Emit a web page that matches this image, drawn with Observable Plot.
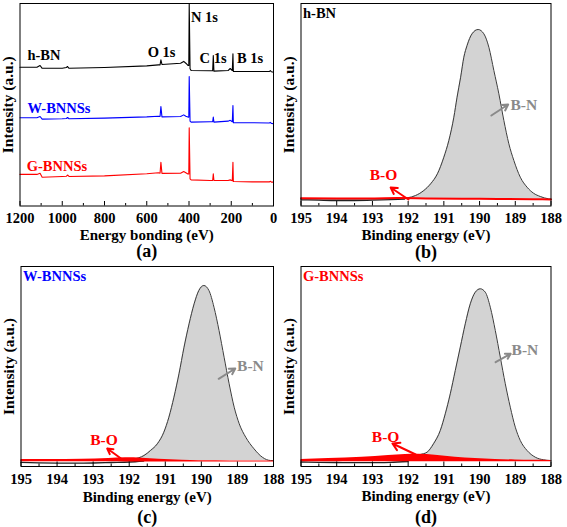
<!DOCTYPE html>
<html><head><meta charset="utf-8">
<script src="https://cdn.jsdelivr.net/npm/d3@7"></script>
<script src="https://cdn.jsdelivr.net/npm/@observablehq/plot@0.6"></script>
<style>
body{margin:0;background:#fff;}
#root{position:relative;width:567px;height:527px;overflow:hidden;background:#fff;}
#root svg{position:absolute;overflow:visible;}
#root svg text{font-family:"Liberation Serif","Times New Roman",serif !important;font-weight:bold !important;}
</style></head><body><div id="root"></div>
<script>
// ---------- (a) survey spectra ----------
const surveyEV  = [1200,1120,1105,1095,1000,980,975,968,800,600,545,537,533,528,440,425,415,405,401,399,395,390,300,288,285,282,215,205,195,192,190,188,100,20,15,10,0];
const surveyHBN = [68.5,68.5,69.4,68.0,68.0,68.4,68.9,68.0,68.4,69.2,69.7,69.7,72.2,69.9,70.5,71.4,70.5,69.4,69.4,99.8,67.8,66.9,66.8,66.8,74.3,66.6,66.9,67.9,66.9,75.2,66.4,66.4,66.4,66.4,66.9,66.3,66.1];
const surveyW   = [43.6,43.6,44.2,42.9,43.1,43.2,43.7,43.1,43.4,44.0,44.3,44.2,49.1,44.0,44.2,45.0,44.3,43.9,43.9,63.9,41.9,41.4,41.6,41.6,43.9,41.4,41.9,42.3,41.6,49.6,41.1,41.1,41.1,41.0,41.3,40.8,40.6];
const surveyG   = [15.6,15.6,16.2,14.2,14.6,14.7,15.3,14.6,14.9,15.9,16.4,16.2,21.6,16.1,16.2,17.0,16.4,15.8,15.8,38.6,13.4,12.9,12.6,12.6,15.9,12.6,12.6,12.9,12.5,21.6,12.1,12.1,11.9,11.9,12.2,11.8,11.8];
const surveyTicks = [1200,1000,800,600,400,200,0];
const surveyMinor = [1100,900,700,500,300,100];
const sampleNames = ["h-BN","W-BNNSs","G-BNNSs"];
const sampleColors = ["#000000","#0000ff","#ff0000"];
const sampleLabelEV = [1165,1165,1168];
const sampleLabelI = [74.4,48.3,19.7];
const coreNames = ["O 1s","N 1s","C 1s","B 1s"];
const coreLabelEV = [530,327,286,111];
const coreLabelI = [75.9,93.1,72.9,72.9];

// ---------- (b)-(d) B 1s ----------
const hrTicks = [195,194,193,192,191,190,189,188];
const hrMinor = [194.5,193.5,192.5,191.5,190.5,189.5,188.5];

const bEV = [195,194,193,192.5,192.02,191.79,191.56,191.37,191.18,191.00,190.86,190.72,190.63,190.53,190.44,190.35,190.21,190.04,189.88,189.74,189.60,189.46,189.32,189.18,189.04,188.86,188.67,188.49,188.30,188.07,188];
const bBN = [0,0,0,0.3,1.2,3.5,8.5,15.2,25.2,41.8,58.5,81.8,101.8,121.8,141.8,153.5,165.2,169.5,165.2,151.8,128.5,105.2,78.5,55.2,38.5,21.8,11.8,5.8,2.5,0.2,0];
const bBoEV = [195,194,193,192.3,191.5,190.5,189.5,188.5,188];
const bBo = [0.8,0.6,0.6,0.9,0.6,0.3,0.1,-0.2,-0.4];
const bBgEV = [195,194.5,194,193.5,193,192.5,192.1];
const bBg = [-0.8,-1.2,-1.5,-1.5,-1.2,-0.6,0];

const cEV = [195,194,193,192.5,191.87,191.59,191.41,191.22,191.04,190.90,190.76,190.62,190.48,190.34,190.20,190.07,189.93,189.79,189.65,189.51,189.37,189.23,189.09,188.95,188.77,188.54,188.31,188.08,188];
const cBN = [0,0,0,0.3,1.7,5,10,16.7,28.3,43.3,63.3,86.7,113.3,136.7,156.7,170,175,170,153.3,130,103.3,76.7,53.3,36.7,23.3,11.7,3.3,0,0];
const cBoEV = [195,194.23,193.31,192.57,192.1,191.64,191.18,190.53,189.6,188.8,188];
const cBoTop = [1,1,1.3,2,2.7,2.3,1.3,0.3,-0.3,-0.5,-0.6];
const cBoBase = [-1.3,-1.3,-1.3,-1.3,-1.4,-1.4,-1.4,-1.4,-1.5,-1.5,-1.6];
const cBgEV = [195,194.5,194,193.5,193,192.5,192,191.6];
const cBg = [-1.8,-2.3,-2.6,-2.7,-2.5,-2,-1.5,-0.5];

const dEV = [195,194,193,192.3,191.9,191.66,191.47,191.29,191.10,190.96,190.82,190.68,190.54,190.40,190.26,190.12,189.98,189.84,189.70,189.56,189.42,189.28,189.14,189.00,188.86,188.67,188.44,188.21,188.02,188];
const dBN = [0,0,0.5,2,4,6,8.3,16.7,30,46.7,66.7,90,113.3,136.7,156.7,168.3,171.7,168.3,153.3,130,103.3,76.7,53.3,33.3,20,10,3.3,0.7,0,0];
const dBoEV = [195,194.23,193.29,192.55,192.08,191.71,191.24,190.68,190.12,189.56,189,188.5,188];
const dBoTop = [1,2,3.3,5,6,6.3,5.3,3.3,2,1,0.5,0.2,0];
const dBoBase = [-1.3,-1.3,-1.3,-1.3,-1.3,-1.3,-1.3,-1.3,-1.3,-1.3,-1.3,-1.3,-1.3];
const dBgEV = [195,194.5,194,193.5,193,192.5,192];
const dBg = [-1.5,-1.8,-2,-2.2,-2.2,-1.8,-1];

// annotations: [label eV, label I], arrows: [x1,y1,x2,y2]
const bBOlabel = [192.69,23.5], bBOarrow = [191.99,-0.5,192.49,11.5];
const bBNlabel = [188.76,93.5], bBNarrow = [189.67,83.5,189.2,94.5];
const cBOlabel = [192.70,20],   cBOarrow = [192.19,1,192.61,12];
const cBNlabel = [188.64,94],   cBNarrow = [189.52,81.7,189.06,92];
const dBOlabel = [192.63,23],   dBOarrow = [191.79,6,192.44,17];
const dBNlabel = [188.73,110],  dBNarrow = [189.55,98.3,189.13,106.7];

const root = document.getElementById("root");
const GRAY = "#d3d3d3", OUTLINE = "#3a3a3a", BNCOL = "#8a8a8a";
const SVGSTYLE = {background: "transparent", overflow: "visible", fontFamily: "Liberation Serif, Times New Roman, serif", fontWeight: "bold"};

function common(fh, majors, minors, xTitle, caption, titleDy, capDy) {
  return [
    Plot.tickX(minors, {x: d => d, insetTop: fh - 2.5, stroke: "#000"}),
    Plot.tickX(majors, {x: d => d, insetTop: fh - 4.5, stroke: "#000"}),
    Plot.axisX(majors, {tickSize: 0, tickPadding: 7, fontSize: 14.5, tickFormat: d => String(d), label: null, color: "#000"}),
    Plot.text([xTitle], {frameAnchor: "bottom", dy: titleDy, fontSize: 15, text: d => d, fill: "#000", textAnchor: "middle", lineAnchor: "middle"}),
    Plot.text(["Intensity (a.u.)"], {frameAnchor: "left", rotate: -90, dx: -11.5, fontSize: 15.5, text: d => d, fill: "#000", textAnchor: "middle", lineAnchor: "middle"}),
    Plot.text([caption], {frameAnchor: "bottom", dy: capDy, fontSize: 18, text: d => d, fill: "#000", textAnchor: "middle", lineAnchor: "middle"}),
    Plot.frame({stroke: "#000", strokeWidth: 1})
  ];
}

function place(svg, left, top) {
  svg.style.left = left + "px";
  svg.style.top = top + "px";
  root.appendChild(svg);
}

// panel (a)
{
  const W = 280, H = 260, ml = 19.5, mr = 7, mt = 3, mb = 54.5;
  const fh = H - mt - mb;
  const series = [surveyHBN, surveyW, surveyG];
  const marks = [];
  series.forEach((s, k) => marks.push(Plot.line(surveyEV, {x: d => d, y: (d, i) => s[i], stroke: sampleColors[k], strokeWidth: 1.1})));
  sampleNames.forEach((n, k) => marks.push(Plot.text([n], {x: () => sampleLabelEV[k], y: () => sampleLabelI[k], text: d => d, fill: sampleColors[k], fontSize: 14.5, textAnchor: "start"})));
  marks.push(Plot.text(coreNames, {x: (d, i) => coreLabelEV[i], y: (d, i) => coreLabelI[i], text: d => d, fill: "#000", fontSize: 14.5, textAnchor: "middle"}));
  const svg = Plot.plot({
    width: W, height: H, marginLeft: ml, marginRight: mr, marginTop: mt, marginBottom: mb,
    style: SVGSTYLE,
    x: {domain: [1200, 0]}, y: {domain: [0, 100], axis: null},
    marks: [...marks, ...common(fh, surveyTicks, surveyMinor, "Energy bonding (eV)", "(a)", 29, 45.5)]
  });
  place(svg, 0, 0);
}

function hrPanel(opts) {
  const {left, top, W, H, ml, mr, mt, mb, yDomain, ev, bn, bo, bgEV, bg, name, nameColor, boLabel, boArrow, bnLabel, bnArrow, caption, titleDy, capDy} = opts;
  const fh = H - mt - mb;
  const marks = [
    Plot.areaY(ev, {x: d => d, y1: 0, y2: (d, i) => bn[i], fill: GRAY, curve: "monotone-x"}),
    Plot.line(bgEV, {x: d => d, y: (d, i) => bg[i], stroke: "#222", strokeWidth: 1.3, curve: "monotone-x"}),
    Plot.line(ev, {x: d => d, y: (d, i) => bn[i], stroke: OUTLINE, strokeWidth: 1, curve: "monotone-x"}),
    ...bo,
    Plot.arrow([boArrow], {x1: d => d[0], y1: d => d[1], x2: d => d[2], y2: d => d[3], stroke: "#ff0000", strokeWidth: 2, headLength: 6}),
    Plot.arrow([bnArrow], {x1: d => d[0], y1: d => d[1], x2: d => d[2], y2: d => d[3], stroke: BNCOL, strokeWidth: 2, headLength: 6}),
    Plot.text(["B-O"], {x: () => boLabel[0], y: () => boLabel[1], text: d => d, fill: "#ff0000", fontSize: 15.5, textAnchor: "middle"}),
    Plot.text(["B-N"], {x: () => bnLabel[0], y: () => bnLabel[1], text: d => d, fill: BNCOL, fontSize: 15.5, textAnchor: "middle"}),
    Plot.text([name], {frameAnchor: "top-left", dx: 2, dy: 10, text: d => d, fill: nameColor, fontSize: 14.5, textAnchor: "start", lineAnchor: "middle"})
  ];
  const svg = Plot.plot({
    width: W, height: H, marginLeft: ml, marginRight: mr, marginTop: mt, marginBottom: mb,
    style: SVGSTYLE,
    x: {domain: [195, 188]}, y: {domain: yDomain, axis: null},
    marks: [...marks, ...common(fh, hrTicks, hrMinor, "Binding energy (eV)", caption, titleDy, capDy)]
  });
  place(svg, left, top);
}

// panel (b)
hrPanel({
  left: 280, top: 0, W: 287, H: 260, ml: 20.5, mr: 16.5, mt: 3, mb: 54.5, yDomain: [-7, 195.5],
  ev: bEV, bn: bBN, bgEV: bBgEV, bg: bBg,
  bo: [Plot.line(bBoEV, {x: d => d, y: (d, i) => bBo[i], stroke: "#ff0000", strokeWidth: 2, curve: "monotone-x"})],
  name: "h-BN", nameColor: "#000", boLabel: bBOlabel, boArrow: bBOarrow, bnLabel: bBNlabel, bnArrow: bBNarrow,
  caption: "(b)", titleDy: 29, capDy: 46
});

// panel (c)
hrPanel({
  left: 0, top: 260, W: 280, H: 267, ml: 20.5, mr: 7, mt: 6, mb: 61, yDomain: [-6, 194],
  ev: cEV, bn: cBN, bgEV: cBgEV, bg: cBg,
  bo: [Plot.areaY(cBoEV, {x: d => d, y1: (d, i) => cBoBase[i], y2: (d, i) => cBoTop[i], fill: "#ff0000", curve: "monotone-x"})],
  name: "W-BNNSs", nameColor: "#0000ff", boLabel: cBOlabel, boArrow: cBOarrow, bnLabel: cBNlabel, bnArrow: cBNarrow,
  caption: "(c)", titleDy: 30.5, capDy: 50.5
});

// panel (d)
hrPanel({
  left: 280, top: 260, W: 287, H: 267, ml: 20.5, mr: 16.5, mt: 6, mb: 61, yDomain: [-6, 194],
  ev: dEV, bn: dBN, bgEV: dBgEV, bg: dBg,
  bo: [Plot.areaY(dBoEV, {x: d => d, y1: (d, i) => dBoBase[i], y2: (d, i) => dBoTop[i], fill: "#ff0000", curve: "monotone-x"})],
  name: "G-BNNSs", nameColor: "#ff0000", boLabel: dBOlabel, boArrow: dBOarrow, bnLabel: dBNlabel, bnArrow: dBNarrow,
  caption: "(d)", titleDy: 30, capDy: 50.5
});
</script></body></html>
